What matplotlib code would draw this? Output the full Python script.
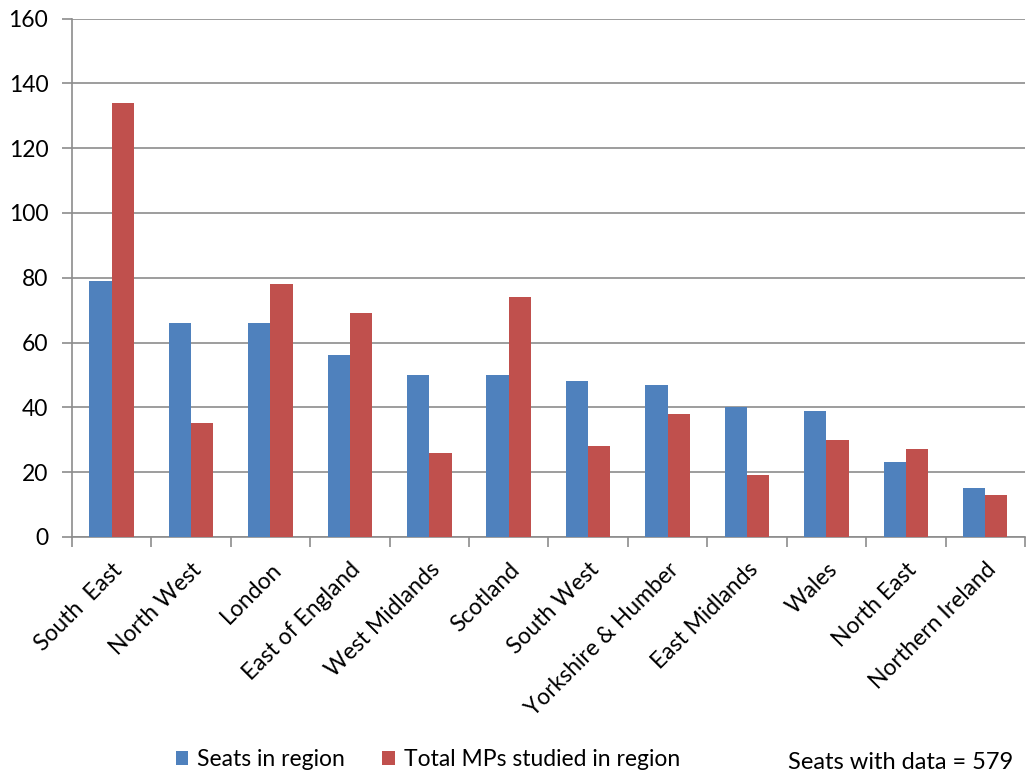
import numpy as np
import matplotlib
matplotlib.use("Agg")
from matplotlib import pyplot as plt
from matplotlib.ticker import FixedLocator

plt.rcParams['font.family'] = ['Lato', 'DejaVu Sans']

regions = ['South  East', 'North West', 'London', 'East of England', 'West Midlands',
           'Scotland', 'South West', 'Yorkshire & Humber', 'East Midlands', 'Wales',
           'North East', 'Northern Ireland']
seats = [79, 66, 66, 56, 50, 50, 48, 47, 40, 39, 23, 15]
mps_studied = [134, 35, 78, 69, 26, 74, 28, 38, 19, 30, 27, 13]
y_ticks = [0, 20, 40, 60, 80, 100, 120, 140, 160]

blue = '#4F81BD'
red = '#C0504D'
grey = '#8C8C8C'
fs = 16.5

fig = plt.figure(figsize=(10.27, 7.78), dpi=100)
ax = fig.add_axes([0.070, 0.310, 0.928, 0.666])

x = np.arange(len(regions))
w = 0.28
ax.bar(x - w / 2, seats, w, color=blue, label='Seats in region', zorder=3)
ax.bar(x + w / 2, mps_studied, w, color=red, label='Total MPs studied in region', zorder=3)

ax.set_xlim(-0.5, len(regions) - 0.5)
ax.set_ylim(0, 160)
ax.set_yticks(y_ticks)
ax.yaxis.grid(True, color=grey, linewidth=1.2, zorder=0)

for s in ['top', 'right']:
    ax.spines[s].set_visible(False)
for s in ['left', 'bottom']:
    ax.spines[s].set_color(grey)
    ax.spines[s].set_linewidth(1.2)

ax.tick_params(axis='y', which='major', length=7, width=1.2, color=grey, labelsize=fs, pad=10)
ax.set_xticks(x)
ax.set_xticklabels(regions, rotation=45, ha='right', rotation_mode='anchor', fontsize=fs)
ax.tick_params(axis='x', which='major', length=0, pad=16)
ax.xaxis.set_minor_locator(FixedLocator(np.arange(-0.5, len(regions), 1.0)))
ax.tick_params(axis='x', which='minor', length=7, width=1.2, color=grey)

fig.legend(loc='lower left', bbox_to_anchor=(0.151, -0.016), ncol=2, frameon=False,
           fontsize=fs, handlelength=0.55, handleheight=0.55, handletextpad=0.4,
           columnspacing=1.6)
fig.text(0.767, 0.006, 'Seats with data = 579', fontsize=17, ha='left', va='bottom')

fig.savefig('out.png', dpi=100)
